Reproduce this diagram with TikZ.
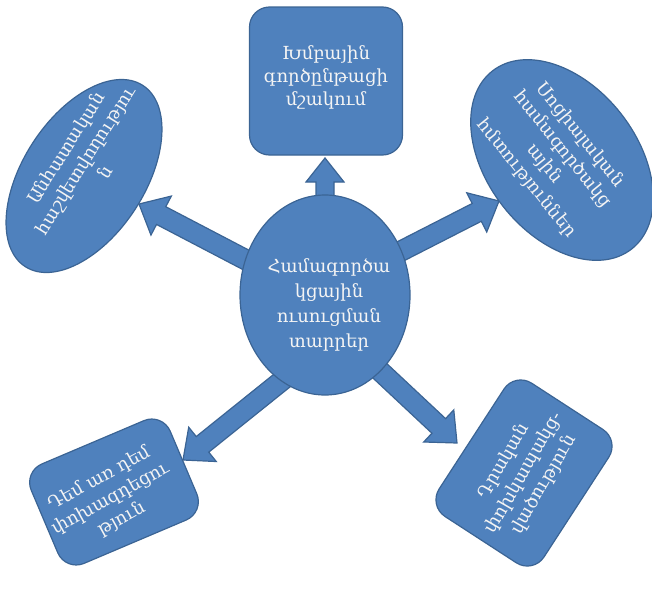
\documentclass[tikz,border=0pt]{standalone}
\usepackage{fontspec}
\setmainfont{DejaVu Serif}
\usepackage{graphicx}
\usetikzlibrary{calc,shapes.geometric,backgrounds}
\definecolor{bfill}{HTML}{4F81BD}
\definecolor{bline}{HTML}{3B6494}
\definecolor{btext}{HTML}{F4F4F4}
% #1 extra angle, #2 x offset, #3 y offset, #4 lines
\newcommand\tx[4]{\smash{\makebox[0pt]{\hspace*{#2}\hspace*{#2}\raisebox{\dimexpr #3-4.5pt\relax}{\rotatebox[origin=c]{#1}{\begin{tabular}{@{}c@{}}#4\end{tabular}}}}}}
% #1 start, #2 tip, #3 half shaft, #4 half head, #5 head length
\newcommand\barrow[5]{%
  \path ($(#1)!-25pt!(#2)$) coordinate (ba) ($(#2)!#5!(#1)$) coordinate (bh);
  \filldraw[blockarrow] ($(ba)!#3!90:(#2)$) -- ($(bh)!#3!90:(#2)$) -- ($(bh)!#4!90:(#2)$) -- (#2)
    -- ($(bh)!#4!-90:(#2)$) -- ($(bh)!#3!-90:(#2)$) -- ($(ba)!#3!-90:(#2)$) -- cycle;}
\begin{document}
\begin{tikzpicture}[x=1pt,y=-1pt,
  base/.style={fill=bfill, draw=bline, line width=1.2pt, text=btext,
    font=\fontsize{18}{23}\selectfont, inner sep=0pt},
  oval/.style={base, ellipse},
  rbox/.style={base, rectangle, rounded corners=20pt},
  blockarrow/.style={fill=bfill, draw=bline, line width=1.2pt, line join=miter}]
\useasboundingbox (0,0) rectangle (652,597);

\node[rbox, minimum width=153pt, minimum height=148pt] (t) at (326,81)
  {\tx{0}{0pt}{3pt}{Խմբային\\գործընթացի\\մշակում}};
\node[oval, minimum width=170pt, minimum height=200pt, font=\fontsize{18}{25}\selectfont] (c) at (325,295)
  {\tx{0}{4pt}{-10pt}{Համագործա\\կցային\\ուսուցման\\տարրեր}};
\node[oval, rotate=57, minimum width=216pt, minimum height=122pt] (l) at (84,176)
  {\tx{1}{14pt}{6pt}{Անհատական\\հաշվետվողությու\\ն}};
\node[oval, rotate=-52, minimum width=226pt, minimum height=150pt] (r) at (562,160)
  {\tx{1}{-8pt}{-5pt}{Սոցիալական\\համագործակց\\ային\\հմտություններ}};
\node[rbox, rotate=23, minimum width=151pt, minimum height=108pt] (bl) at (114,492)
  {\tx{6}{-6pt}{-5pt}{Դեմ առ դեմ\\փոխազդեցու\\թյուն}};
\node[rbox, rotate=57, minimum width=159pt, minimum height=125pt] (br) at (524,473)
  {\tx{3}{0pt}{0pt}{Դրական\\փոխկապակց-\\վածություն}};

\coordinate (tu) at (325,158);
\coordinate (tl) at (139,204);
\coordinate (tr) at (499,201);
\coordinate (tbl) at (183,460);
\coordinate (tbr) at (457,443);

\begin{pgfonlayer}{background}
\barrow{c.north}{tu}{9pt}{19pt}{24pt}
\barrow{c.156}{tl}{10pt}{22pt}{25pt}
\barrow{c.30}{tr}{10pt}{22pt}{25pt}
\barrow{c.243}{tbl}{10pt}{22pt}{25pt}
\barrow{c.306}{tbr}{10pt}{22pt}{25pt}
\end{pgfonlayer}
\end{tikzpicture}
\end{document}
